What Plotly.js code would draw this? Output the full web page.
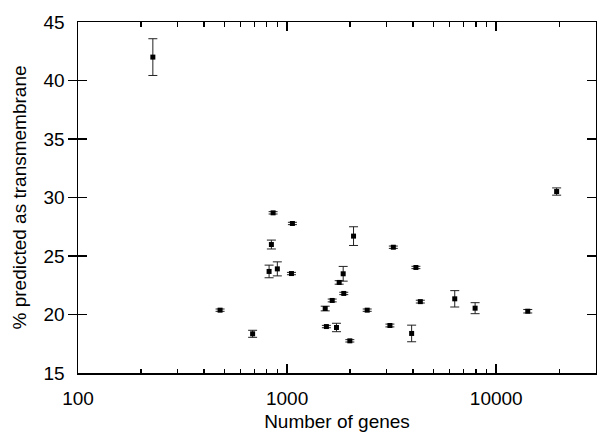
<!DOCTYPE html>
<html>
<head>
<meta charset="utf-8">
<script src="https://cdn.plot.ly/plotly-3.0.1.min.js"></script>
<style>html,body{margin:0;padding:0;background:#fff;}#chart{width:597px;height:432px;}</style>
</head>
<body>
<div id="chart"></div>
<script>
// Number of genes per genome
var genes = [228, 478, 684, 841, 820, 898, 1049, 1060, 857,
             2078, 3221, 4130, 1854, 1774, 1866, 1643, 1521, 2415,
             4335, 6333, 7925, 14150, 1541, 1722, 1995, 3102, 3940, 19450];
// % predicted as transmembrane
var pctTM = [42.0, 20.37, 18.35, 25.98, 23.68, 23.9, 23.5, 27.78, 28.69,
             26.7, 25.75, 24.02, 23.48, 22.74, 21.8, 21.2, 20.51, 20.37,
             21.1, 21.34, 20.54, 20.28, 18.97, 18.89, 17.75, 19.06, 18.38, 30.51];
// error (+/-)
var errTM = [1.57, 0.1, 0.3, 0.38, 0.54, 0.6, 0.1, 0.1, 0.1,
             0.8, 0.1, 0.1, 0.63, 0.15, 0.1, 0.12, 0.2, 0.1,
             0.12, 0.7, 0.47, 0.15, 0.1, 0.36, 0.1, 0.12, 0.71, 0.31];
// tick values
var xMajorTicks = [100, 1000, 10000];
var xMajorLabels = ['100', '1000', '10000'];
var xMinorTicks = [200, 300, 400, 500, 600, 700, 800, 900,
                   2000, 3000, 4000, 5000, 6000, 7000, 8000, 9000, 20000];
var yTicks = [15, 20, 25, 30, 35, 40, 45];

var trace = {
  x: genes, y: pctTM, type: 'scatter', mode: 'markers',
  marker: {symbol: 'square', size: 5, color: '#000'},
  error_y: {type: 'data', array: errTM, visible: true, color: '#222', thickness: 1, width: 4.5},
  hoverinfo: 'x+y'
};
// invisible trace to carry the minor-tick axis
var ghost = {
  x: genes, y: pctTM, type: 'scatter', mode: 'markers', xaxis: 'x2',
  marker: {size: 1, opacity: 0}, hoverinfo: 'skip', showlegend: false
};

var fontFam = '"Liberation Sans", Arial, Helvetica, sans-serif';
var xRange = [2, Math.log10(30000)];
var layout = {
  width: 597, height: 432,
  margin: {l: 78, r: 1, t: 22, b: 59},
  paper_bgcolor: '#fff', plot_bgcolor: '#fff',
  showlegend: false,
  font: {family: fontFam, size: 19, color: '#000'},
  xaxis: {
    type: 'log', range: xRange,
    tickvals: xMajorTicks, ticktext: xMajorLabels,
    ticks: 'inside', ticklen: 9, tickwidth: 1.5, tickcolor: '#000',
    showline: true, linecolor: '#000', linewidth: 1.5, mirror: 'allticks',
    showgrid: false, zeroline: false,
    tickfont: {size: 19}, ticklabelstandoff: 8,
    title: {text: 'Number of genes', font: {size: 19}, standoff: 10}
  },
  xaxis2: {
    type: 'log', range: xRange, overlaying: 'x', side: 'bottom', anchor: 'y',
    tickvals: xMinorTicks, showticklabels: false,
    ticks: 'inside', ticklen: 4.5, tickwidth: 1.2, tickcolor: '#000',
    showline: false, mirror: 'allticks', showgrid: false, zeroline: false
  },
  yaxis: {
    range: [15, 45], tickvals: yTicks,
    ticks: 'inside', ticklen: 9, tickwidth: 1.5, tickcolor: '#000',
    showline: true, linecolor: '#000', linewidth: 1.5, mirror: 'allticks',
    showgrid: false, zeroline: false,
    tickfont: {size: 19}, ticklabelstandoff: 8,
    title: {text: '% predicted as transmembrane', font: {size: 19}, standoff: 12}
  }
};
Plotly.newPlot('chart', [ghost, trace], layout, {displayModeBar: false, staticPlot: true});
</script>
</body>
</html>
